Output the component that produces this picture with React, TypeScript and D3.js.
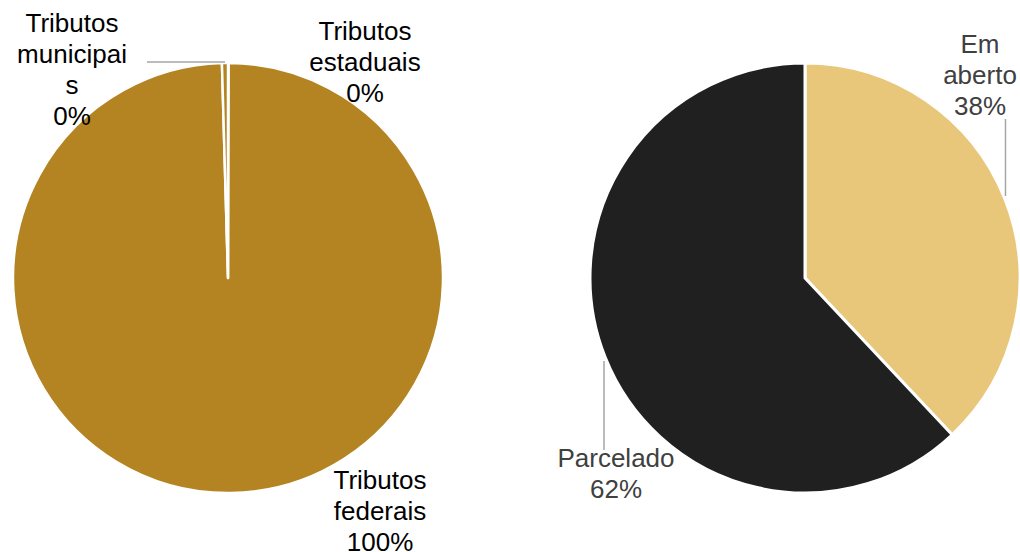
import * as d3 from "d3";

const WIDTH = 1020;
const HEIGHT = 552;
const RADIUS = 215;
const FONT = "'Liberation Sans', Arial, sans-serif";

// left chart: tributos (order starts at 12 o'clock, clockwise)
const tributoNames = ["Tributos estaduais", "Tributos federais", "Tributos municipais"];
const tributoValues = [0.5, 995, 4.5];
const tributoColors = ["#B38421", "#B38421", "#B38421"];

// right chart: situação
const situacaoNames = ["Em aberto", "Parcelado"];
const situacaoValues = [38, 62];
const situacaoColors = ["#E8C77A", "#202020"];

type Label = { lines: string[]; x: number; y: number; color: string };
type Leader = { x1: number; y1: number; x2: number; y2: number };

const pct = (v: number, all: number[]) => `${Math.round((v / d3.sum(all)) * 100)}%`;

function PieChart(props: {
  cx: number;
  cy: number;
  values: number[];
  colors: string[];
  strokeWidth: number;
  labels: Label[];
  leaders: Leader[];
}) {
  const { cx, cy, values, colors, strokeWidth, labels, leaders } = props;
  const arcs = d3.pie<number>().sort(null).value((d) => d)(values);
  const arc = d3.arc<d3.PieArcDatum<number>>().innerRadius(0).outerRadius(RADIUS);
  return (
    <g>
      <g transform={`translate(${cx},${cy})`}>
        {arcs.map((a, i) => (
          <path
            key={i}
            d={arc(a) ?? ""}
            fill={colors[i]}
            stroke="#ffffff"
            strokeWidth={strokeWidth}
            strokeLinejoin="round"
          />
        ))}
      </g>
      {leaders.map((l, i) => (
        <line key={i} x1={l.x1} y1={l.y1} x2={l.x2} y2={l.y2} stroke="#A6A6A6" strokeWidth={1.5} />
      ))}
      {labels.map((lb, i) => (
        <text key={i} x={lb.x} y={lb.y} textAnchor="middle" fill={lb.color} fontSize={26} fontFamily={FONT}>
          {lb.lines.map((t, j) => (
            <tspan key={j} x={lb.x} dy={j === 0 ? 0 : 31}>
              {t}
            </tspan>
          ))}
        </text>
      ))}
    </g>
  );
}

export default function App() {
  const leftLabels: Label[] = [
    { lines: ["Tributos", "estaduais", pct(tributoValues[0], tributoValues)], x: 365, y: 40, color: "#000000" },
    { lines: ["Tributos", "federais", pct(tributoValues[1], tributoValues)], x: 380, y: 489, color: "#000000" },
    { lines: ["Tributos", "municipai", "s", pct(tributoValues[2], tributoValues)], x: 72, y: 32, color: "#000000" },
  ];
  const rightLabels: Label[] = [
    { lines: ["Em", "aberto", pct(situacaoValues[0], situacaoValues)], x: 980, y: 53, color: "#404040" },
    { lines: ["Parcelado", pct(situacaoValues[1], situacaoValues)], x: 616, y: 467, color: "#404040" },
  ];
  return (
    <svg
      width={WIDTH}
      height={HEIGHT}
      style={{ position: "absolute", left: 0, top: 0, background: "#ffffff" }}
    >
      <PieChart
        cx={228}
        cy={278}
        values={tributoValues}
        colors={tributoColors}
        strokeWidth={2.5}
        labels={leftLabels}
        leaders={[{ x1: 147, y1: 62, x2: 225, y2: 62 }]}
      />
      <PieChart
        cx={805}
        cy={278}
        values={situacaoValues}
        colors={situacaoColors}
        strokeWidth={3}
        labels={rightLabels}
        leaders={[
          { x1: 1005.5, y1: 119, x2: 1005.5, y2: 196 },
          { x1: 604, y1: 361, x2: 604, y2: 450 },
        ]}
      />
    </svg>
  );
}
